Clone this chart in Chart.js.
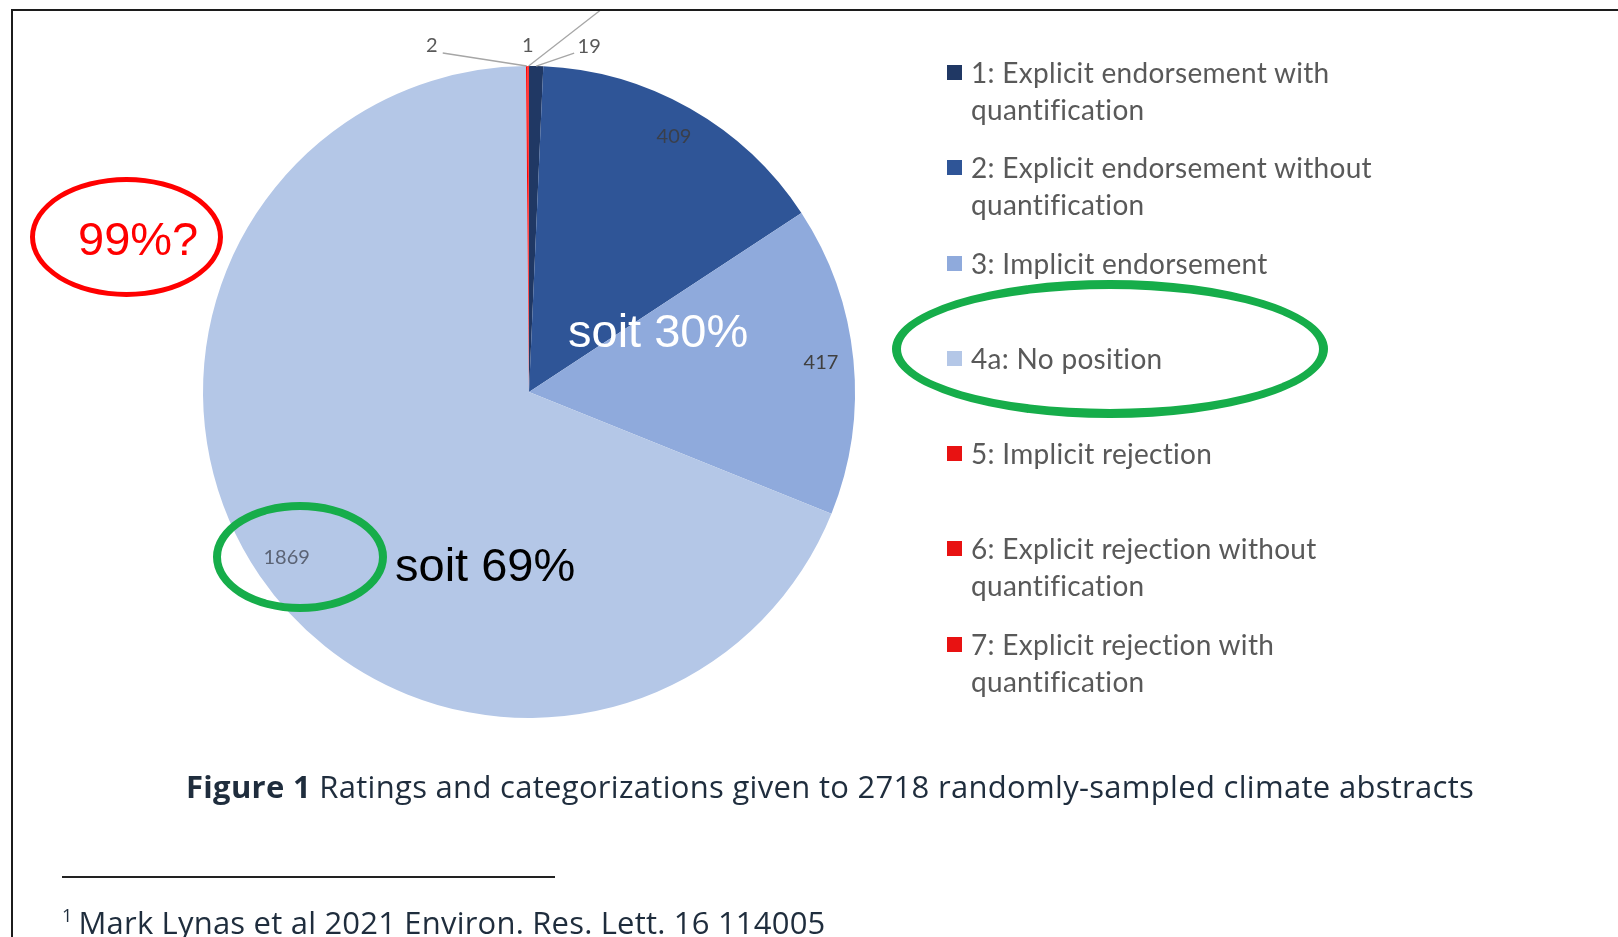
<!DOCTYPE html>
<html>
<head>
<meta charset="utf-8">
<script src="https://cdn.jsdelivr.net/npm/chart.js@4.4.1/dist/chart.umd.min.js"></script>
<style>
    body { margin: 0; background: #fff; width: 1618px; height: 937px; overflow: hidden; position: relative; }
    #pie { position: absolute; left: 0; top: 0; }
    .frame { position: absolute; left: 11px; top: 9px; right: -10px; bottom: -10px; border-left: 2px solid #1c1c1c; border-top: 2px solid #1c1c1c; }
    #legend { position: absolute; left: 947px; top: 54px; margin: 0; padding: 0; list-style: none; font-family: Lato, sans-serif; }
    #legend li { height: 95.3px; display: flex; align-items: flex-start; }
    #legend .box { width: 15px; height: 15px; margin-top: 11px; margin-right: 9px; flex: none; }
    #legend .txt { font-size: 28px; letter-spacing: 0.3px; line-height: 37px; color: #595959; width: 440px; }
    .ring { position: absolute; border-radius: 50%; box-sizing: border-box; }
    .note { position: absolute; font-family: "Liberation Sans", Arial, sans-serif; font-size: 47px; line-height: 1; white-space: nowrap; }
    .caption { position: absolute; left: 186px; top: 765px; font-family: "Open Sans", sans-serif; font-size: 31px; letter-spacing: 0.3px; color: #1f2d3d; white-space: nowrap; }
    .rule { position: absolute; left: 62px; top: 876px; width: 493px; height: 2px; background: #222; }
    .foot { position: absolute; left: 62px; top: 901px; font-family: "Open Sans", sans-serif; font-size: 31px; letter-spacing: 0.2px; color: #1f2d3d; white-space: nowrap; }
    .foot sup { font-size: 18px; vertical-align: 12px; margin-right: 6px; }
</style>
</head>
<body>
<canvas id="pie" width="1618" height="937"></canvas>
<div class="frame"></div>
<ul id="legend"></ul>

<div class="ring" style="left:30px; top:177px; width:193px; height:120px; border:5px solid #f00;"></div>
<div class="note" style="left:78px; top:215px; color:#f00;">99%?</div>
<div class="note" style="left:568px; top:307px; color:#fff;">soit 30%</div>
<div class="ring" style="left:213px; top:502px; width:174px; height:110px; border:8px solid #16ad4a;"></div>
<div class="note" style="left:395px; top:541px; color:#000;">soit 69%</div>
<div class="ring" style="left:892px; top:280px; width:436px; height:138px; border:9px solid #16ad4a;"></div>

<div class="caption"><b>Figure 1</b> Ratings and categorizations given to 2718 randomly-sampled climate abstracts</div>
<div class="rule"></div>
<div class="foot"><sup>1</sup>Mark Lynas et al 2021 Environ. Res. Lett. 16 114005</div>

<script>
// pie data, clockwise from 12 o'clock
const categories = [
    '1: Explicit endorsement with quantification',
    '2: Explicit endorsement without quantification',
    '3: Implicit endorsement',
    '4a: No position',
    '5: Implicit rejection',
    '6: Explicit rejection without quantification',
    '7: Explicit rejection with quantification'
];
const counts = [19, 409, 417, 1869, 2, 1, 1];
const sliceColors = ['#203864', '#2f5597', '#8faadc', '#b4c7e7', '#ff0000', '#ff0000', '#ff0000'];
const legendColors = ['#203864', '#2f5597', '#8faadc', '#b4c7e7', '#e81212', '#e81212', '#e81212'];

// html legend (wrapping text like the original)
const legendEl = document.getElementById('legend');
categories.forEach((name, i) => {
    const li = document.createElement('li');
    li.innerHTML = '<span class="box" style="background:' + legendColors[i] + '"></span><span class="txt">' + name + '</span>';
    legendEl.appendChild(li);
});

// value labels: inside near the rim for big slices, callouts with leader lines for tiny ones
const pieLabels = {
    id: 'pieLabels',
    afterDatasetsDraw(chart, args, opts) {
        const ctx = chart.ctx;
        const meta = chart.getDatasetMeta(0);
        const values = chart.data.datasets[0].data;
        ctx.save();
        ctx.font = '20px Lato';
        ctx.textAlign = 'center';
        ctx.textBaseline = 'middle';
        ctx.strokeStyle = '#a6a6a6';
        ctx.lineWidth = 1.3;
        meta.data.forEach((arc, i) => {
            const p = arc.getProps(['x', 'y', 'startAngle', 'endAngle', 'outerRadius'], true);
            const mid = (p.startAngle + p.endAngle) / 2;
            const c = opts.callouts[i];
            if (c) {
                const ax = p.x + Math.cos(mid) * p.outerRadius;
                const ay = p.y + Math.sin(mid) * p.outerRadius;
                if (c.line) {
                    ctx.beginPath();
                    ctx.moveTo(ax, ay);
                    ctx.lineTo(ax + c.line[0], ay + c.line[1]);
                    ctx.stroke();
                }
                ctx.fillStyle = '#595959';
                ctx.fillText(values[i], ax + c.dx, ay + c.dy);
            } else {
                const r = p.outerRadius * 0.9;
                ctx.fillStyle = opts.inside[i] || '#595959';
                ctx.fillText(values[i], p.x + Math.cos(mid) * r, p.y + Math.sin(mid) * r);
            }
        });
        ctx.restore();
    }
};

new Chart(document.getElementById('pie'), {
    type: 'pie',
    data: {
        labels: categories,
        datasets: [{
            data: counts,
            backgroundColor: sliceColors,
            borderWidth: 0
        }]
    },
    options: {
        responsive: false,
        animation: false,
        layout: {
            padding: { left: 203, right: 763, top: 66, bottom: 219 }
        },
        plugins: {
            legend: { display: false },
            tooltip: { enabled: false },
            pieLabels: {
                inside: { 1: '#3a3f4a', 2: '#404040', 3: '#5b6375' },
                callouts: {
                    0: { dx: 53, dy: -20, line: [38, -13] },
                    4: { dx: -95, dy: -20, line: [-84, -13] },
                    5: { dx: 0, dy: -20 },
                    6: { dx: 95, dy: -90, line: [72, -56] }
                }
            }
        }
    },
    plugins: [pieLabels]
});
</script>
</body>
</html>
